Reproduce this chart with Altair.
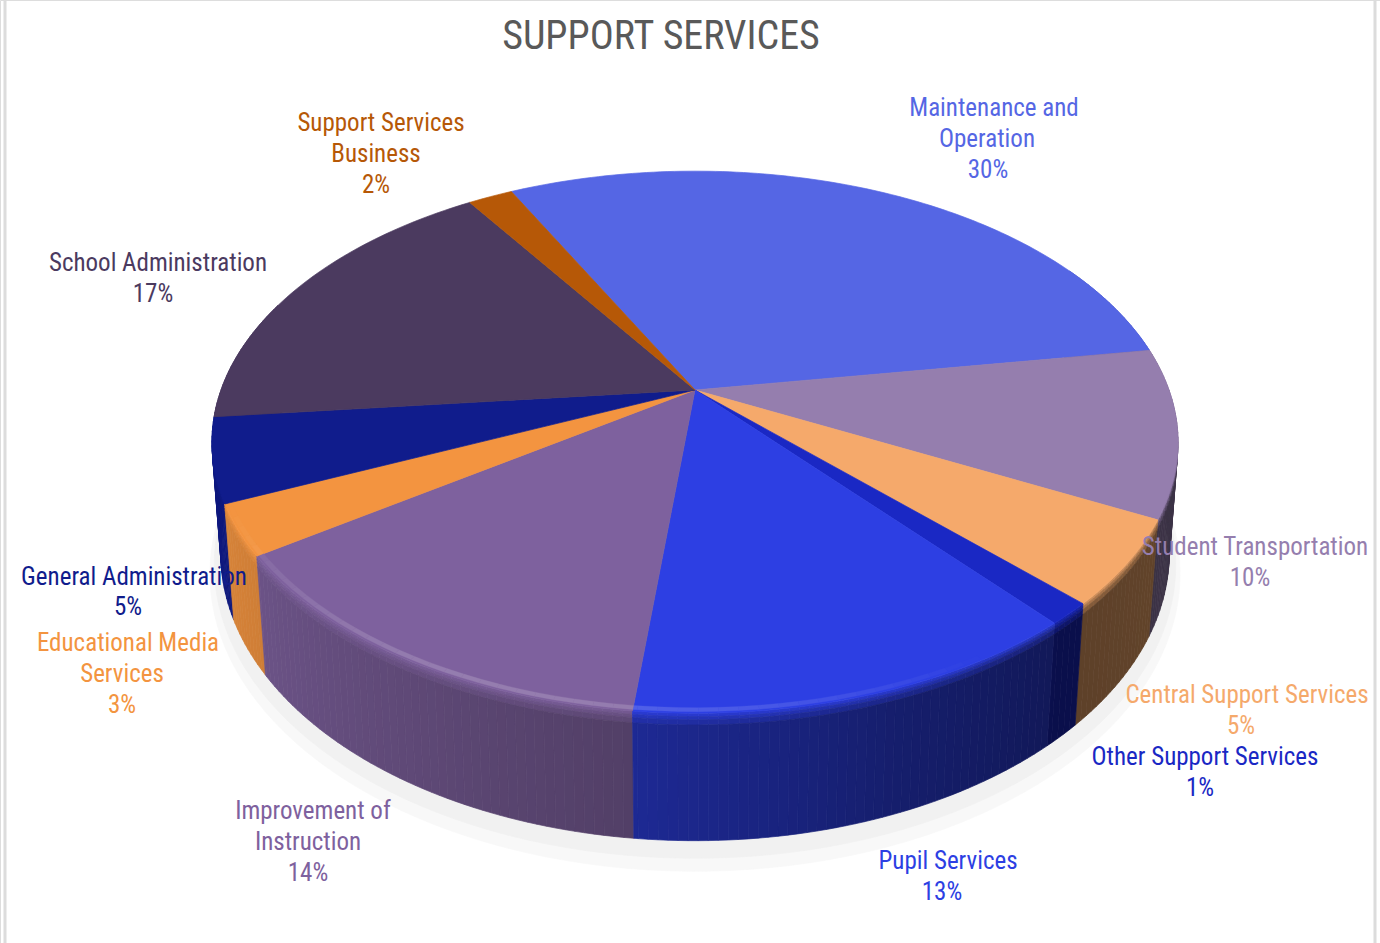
import math
import numpy as np
import pandas as pd
import altair as alt

# Shares of support-services spending, in percent
categories = ["Maintenance and Operation", "Student Transportation", "Central Support Services",
              "Other Support Services", "Pupil Services", "Improvement of Instruction",
              "Educational Media Services", "General Administration", "School Administration",
              "Support Services Business"]
shares = [30.0, 10.0, 5.0, 1.3, 12.9, 13.7, 3.0, 5.0, 17.3, 1.8]
top_colors = ["#5566e4", "#957eae", "#f5a96b", "#1a28c4", "#2d3fe3",
              "#7e619e", "#f39440", "#101c8c", "#4b3a5f", "#b65807"]

# Label lines: each line of text with its centre in page pixels
label_lines = [
    [("Maintenance and", 994, 108), ("Operation", 987, 139)],
    [("Student Transportation", 1255, 547)],
    [("Central Support Services", 1247, 695)],
    [("Other Support Services", 1205, 757)],
    [("Pupil Services", 948, 861)],
    [("Improvement of", 313, 811), ("Instruction", 308, 842)],
    [("Educational Media", 128, 643), ("Services", 122, 674)],
    [("General Administration", 134, 577)],
    [("School Administration", 158, 263)],
    [("Support Services", 381, 123), ("Business", 376, 154)],
]
percent_pos = [(988, 170), (1250, 578), (1241, 726), (1200, 788), (942, 892),
               (308, 873), (122, 705), (128, 607), (153, 294), (376, 185)]

W, H = 1380, 943
FONT = "'Roboto Condensed', Roboto"

# Perspective camera for the tilted disc
CX, CY, SX, SY, K, DEPTH, DW = 695, 390, 474, 261, 0.1926, 111, 0.018
START = -27.0


def project(theta, r=1.0, h=0.0):
    t = math.radians(theta)
    w = 1 + K * r * math.cos(t) + DW * h
    return [CX + SX * r * math.sin(t) / w, CY + (-SY * r * math.cos(t) + DEPTH * h) / w]


def mix(a, b, t):
    ca = [int(a[i:i + 2], 16) for i in (1, 3, 5)]
    cb = [int(b[i:i + 2], 16) for i in (1, 3, 5)]
    return "#" + "".join(f"{round(x + (y - x) * t):02x}" for x, y in zip(ca, cb))


def polygon(ring, fill):
    ring = list(ring) + [ring[0]]
    return {"type": "Feature", "properties": {"fill": fill},
            "geometry": {"type": "Polygon", "coordinates": [ring]}}


def arc(a, b, r=1.0, h=0.0, step=1.0):
    n = max(2, int(abs(b - a) / step) + 1)
    return [project(t, r, h) for t in np.linspace(a, b, n)]


def shade(theta):
    # Side-wall brightness around the rim
    return float(np.interp(theta, [90, 138, 160, 186, 235, 270], [0.42, 0.38, 0.48, 0.65, 0.85, 0.95]))


bounds = [START]
for s in shares:
    bounds.append(bounds[-1] + s * 3.6)

# Pale halo under the near side of the disc
shadow = []
for r, h, col in [(1.025, 1.16, "#f8f8f8"), (1.015, 1.09, "#f1f1f1")]:
    shadow.append(polygon(arc(0, 359.5, r, h, 2), col))

# Rim strips, painted from the far side toward the viewer
strips = []
bands = [0.0, 0.025, 0.05, 0.09, 1.0]
for i, col in enumerate(top_colors):
    a, b = bounds[i], bounds[i + 1]
    for t0 in np.arange(a, b, 1.0):
        t1 = min(t0 + 1.0, b)
        mid = (t0 + t1) / 2
        if not 60 <= mid <= 290:
            continue
        wall = mix("#000000", col, shade(mid))
        for j in range(len(bands) - 1):
            frac = (j + 1) / (len(bands) - 1)
            ring = [project(t0, 1, bands[j]), project(t1, 1, bands[j]),
                    project(t1, 1, bands[j + 1]), project(t0, 1, bands[j + 1])]
            strips.append((math.cos(math.radians(mid)), polygon(ring, mix(col, wall, frac))))
strips.sort(key=lambda p: -p[0])
strips = [p[1] for p in strips]

# Top face of each slice
faces = []
for i, col in enumerate(top_colors):
    faces.append(polygon([project(0, 0)] + arc(bounds[i], bounds[i + 1]), col))

# Thin bright bevel along the near edge, fading toward both ends
bevel = []
for i, col in enumerate(top_colors):
    for t0 in np.arange(bounds[i], bounds[i + 1], 2.0):
        t1 = min(t0 + 2.0, bounds[i + 1])
        mid = (t0 + t1) / 2
        if not 150 <= mid <= 245:
            continue
        strength = 0.18 * math.sin(math.radians((mid - 150) / 95 * 180))
        ring = [project(t0, 0.996), project(t1, 0.996), project(t1, 0.986), project(t0, 0.986)]
        bevel.append(polygon(ring, mix(col, "#ffffff", strength)))


def shapes(features, stroke_width=0.7):
    data = alt.InlineData(values={"type": "FeatureCollection", "features": features},
                          format=alt.DataFormat(property="features", type="json"))
    return alt.Chart(data).mark_geoshape(strokeWidth=stroke_width).encode(
        fill=alt.Fill("properties.fill:N", scale=None),
        stroke=alt.Stroke("properties.fill:N", scale=None),
    ).project(type="identity", scale=1, translate=[0, 0])


rows = []
for cat, share, col, lines, pct in zip(categories, shares, top_colors, label_lines, percent_pos):
    for text, x, y in lines:
        rows.append({"text": text, "px": x, "py": y, "color": col})
    rows.append({"text": f"{round(share)}%", "px": pct[0], "py": pct[1], "color": col})

labels = alt.Chart(pd.DataFrame(rows)).mark_text(
    font=FONT, fontSize=25, fontWeight=400, align="center", baseline="middle"
).encode(
    x=alt.X("px:Q", scale=None, axis=None),
    y=alt.Y("py:Q", scale=None, axis=None),
    text="text:N",
    color=alt.Color("color:N", scale=None),
)

title = alt.Chart(pd.DataFrame({"text": ["SUPPORT SERVICES"], "px": [661], "py": [37]})).mark_text(
    font=FONT, fontSize=40, fontWeight=400, align="center", baseline="middle", color="#595959"
).encode(
    x=alt.X("px:Q", scale=None, axis=None),
    y=alt.Y("py:Q", scale=None, axis=None),
    text="text:N",
)

frame = [
    alt.Chart(pd.DataFrame({"a": [0]})).mark_rule(color="#dcdcdc", strokeWidth=3).encode(
        x=alt.value(x), y=alt.value(0), y2=alt.value(H))
    for x in (5, 1375)
]

chart = alt.layer(
    *frame, shapes(shadow), shapes(strips), shapes(faces), shapes(bevel, 0.3), labels, title
).properties(
    width=W, height=H, padding=0, autosize=alt.AutoSizeParams(type="none")
).configure_view(stroke=None).configure(background="#ffffff")

chart.save("out.html", embed_options={"renderer": "svg", "actions": False})
